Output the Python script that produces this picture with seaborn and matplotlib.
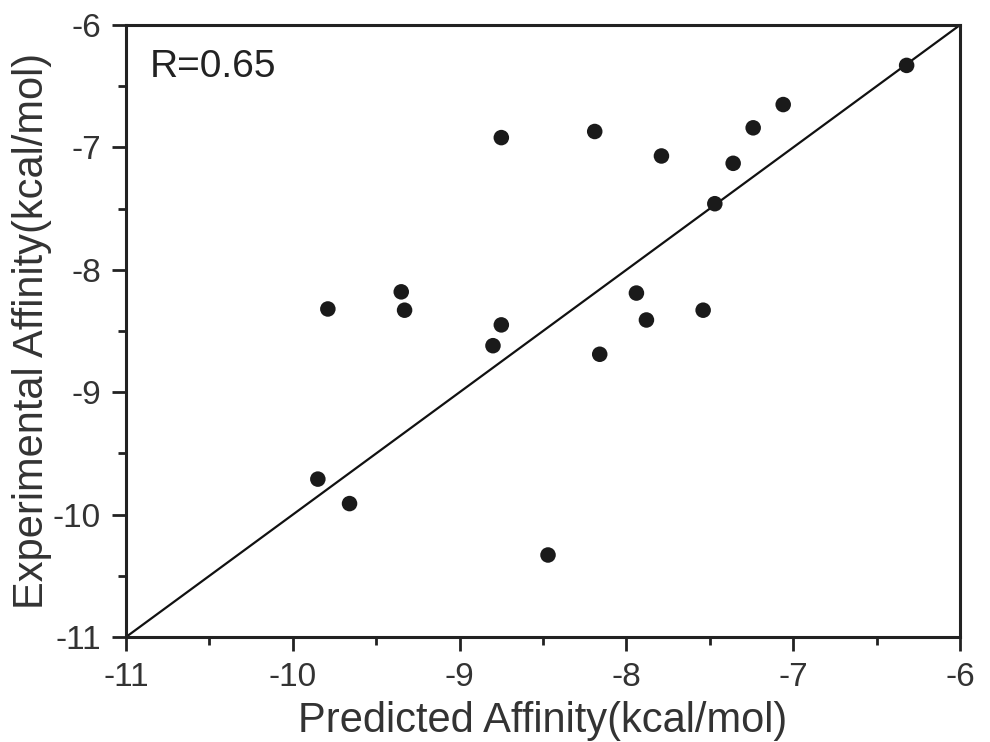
import matplotlib
matplotlib.use("Agg")
import matplotlib.pyplot as plt
import seaborn as sns
import pandas as pd
from matplotlib.ticker import MultipleLocator

# datos
predicted = [-6.32, -7.06, -7.24, -7.36, -7.79, -7.47, -8.19, -8.75, -9.79, -9.35,
             -9.33, -8.75, -8.80, -8.16, -7.94, -7.88, -7.54, -9.85, -9.66, -8.47]
experimental = [-6.33, -6.65, -6.84, -7.13, -7.07, -7.46, -6.87, -6.92, -8.32, -8.18,
                -8.33, -8.45, -8.62, -8.69, -8.19, -8.41, -8.33, -9.71, -9.91, -10.33]
diag = [-11, -6]
r_text = 'R=0.65'

df = pd.DataFrame({'pred': predicted, 'exp': experimental})

sns.set_style('ticks')
plt.rcParams['font.family'] = ['Liberation Sans', 'DejaVu Sans']
plt.rcParams['axes.unicode_minus'] = False

fig = plt.figure(figsize=(9.9, 7.42), dpi=100)
ax = fig.add_axes([0.1273, 0.1415, 0.8424, 0.8248])

# línea y = x
sns.lineplot(x=diag, y=diag, color='#111111', linewidth=1.6, ax=ax)
sns.scatterplot(data=df, x='pred', y='exp', color='#1a1a1a', s=125,
                edgecolor='none', ax=ax, zorder=3)

ax.set_xlim(-11, -6)
ax.set_ylim(-11, -6)
ax.xaxis.set_major_locator(MultipleLocator(1))
ax.yaxis.set_major_locator(MultipleLocator(1))
ax.xaxis.set_minor_locator(MultipleLocator(0.5))
ax.yaxis.set_minor_locator(MultipleLocator(0.5))
ax.tick_params(which='major', direction='out', length=10, width=2,
               labelsize=24, pad=8, color='#222222', labelcolor='#333333')
ax.tick_params(which='minor', direction='out', length=6, width=2, color='#222222')

for sp in ax.spines.values():
    sp.set_linewidth(2.2)
    sp.set_color('#222222')

ax.set_xlabel('Predicted Affinity(kcal/mol)', fontsize=30, color='#333333')
ax.set_ylabel('Experimental Affinity(kcal/mol)', fontsize=30, color='#333333')
ax.xaxis.set_label_coords(0.5, -0.104)
ax.yaxis.set_label_coords(-0.089, 0.5)

ax.text(0.029, 0.915, r_text, transform=ax.transAxes, fontsize=28,
        color='#222222', va='baseline', ha='left')

plt.savefig('out.png', dpi=100)
